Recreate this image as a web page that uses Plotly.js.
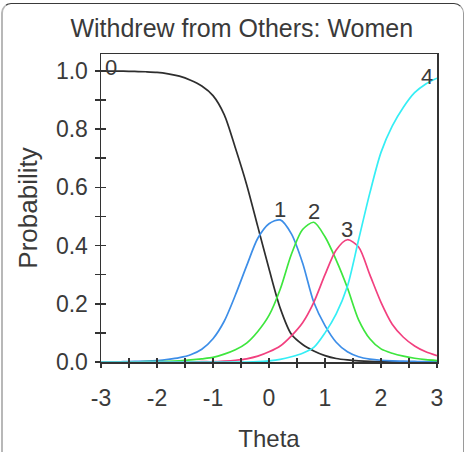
<!DOCTYPE html>
<html>
<head>
<meta charset="utf-8">
<script src="https://cdn.plot.ly/plotly-3.0.1.min.js"></script>
<style>
  html, body { margin: 0; padding: 0; background: #ffffff; }
  #wrap { position: relative; width: 465px; height: 452px; overflow: hidden; }
  #chart { position: absolute; left: 0; top: 0; width: 465px; height: 452px; }
  #frame {
    position: absolute; left: 1px; top: 3px; width: 460px; height: 470px;
    border-top: 1.5px solid #3a3a3a; border-left: 2px solid #b8b8b8;
    border-right: 1.5px solid #9a9a9a; border-radius: 10px 10px 0 0;
    pointer-events: none;
  }
</style>
</head>
<body>
<div id="wrap">
  <div id="chart"></div>
  <div id="frame"></div>
</div>
<script>
// Latent trait grid
const theta = [-3, -2.8, -2.6, -2.4, -2.2, -2, -1.8, -1.6, -1.4, -1.2, -1, -0.8, -0.6, -0.4, -0.2,
               0, 0.2, 0.4, 0.6, 0.8, 1, 1.2, 1.4, 1.6, 1.8, 2, 2.2, 2.4, 2.6, 2.8, 3];

// Category response probabilities
const cat0 = [1.000, 0.999, 0.999, 0.998, 0.997, 0.995, 0.990, 0.982, 0.968, 0.948, 0.915, 0.850, 0.735, 0.610, 0.465,
              0.320, 0.185, 0.095, 0.060, 0.038, 0.022, 0.012, 0.007, 0.004, 0.002, 0.001, 0.001, 0.000, 0.000, 0.000, 0.000];
const cat1 = [0.000, 0.000, 0.001, 0.002, 0.003, 0.005, 0.009, 0.015, 0.025, 0.044, 0.080, 0.140, 0.230, 0.330, 0.425,
              0.475, 0.488, 0.440, 0.340, 0.205, 0.125, 0.068, 0.035, 0.018, 0.010, 0.006, 0.004, 0.003, 0.002, 0.001, 0.001];
const cat2 = [0.000, 0.000, 0.000, 0.000, 0.001, 0.001, 0.002, 0.004, 0.007, 0.011, 0.016, 0.027, 0.042, 0.065, 0.105,
              0.160, 0.250, 0.370, 0.455, 0.480, 0.430, 0.350, 0.255, 0.145, 0.080, 0.045, 0.030, 0.020, 0.013, 0.008, 0.005];
const cat3 = [0.000, 0.000, 0.000, 0.000, 0.000, 0.000, 0.000, 0.000, 0.000, 0.001, 0.001, 0.003, 0.006, 0.011, 0.020,
              0.035, 0.055, 0.090, 0.135, 0.205, 0.300, 0.385, 0.420, 0.395, 0.300, 0.205, 0.130, 0.085, 0.055, 0.035, 0.022];
const cat4 = [0.000, 0.000, 0.000, 0.000, 0.000, 0.000, 0.000, 0.000, 0.000, 0.000, 0.000, 0.000, 0.000, 0.000, 0.001,
              0.004, 0.009, 0.018, 0.030, 0.050, 0.100, 0.165, 0.260, 0.420, 0.580, 0.720, 0.810, 0.875, 0.925, 0.955, 0.975];

const categoryNames = ['0', '1', '2', '3', '4'];
const series = [cat0, cat1, cat2, cat3, cat4];
const colors = ['#2e2e2e', '#3d8ee8', '#3ee63e', '#f2407f', '#35eef5'];

// Axis ticks
const xTickVals = [-3, -2.5, -2, -1.5, -1, -0.5, 0, 0.5, 1, 1.5, 2, 2.5, 3];
const xTickText = ['-3', '', '-2', '', '-1', '', '0', '', '1', '', '2', '', '3'];
const yTickVals = [0, 0.1, 0.2, 0.3, 0.4, 0.5, 0.6, 0.7, 0.8, 0.9, 1.0];
const yTickText = ['0.0', '', '0.2', '', '0.4', '', '0.6', '', '0.8', '', '1.0'];

const FONT = '"Liberation Sans", Arial, sans-serif';
const INK = '#3a3a3a';

const traces = series.map((ys, i) => ({
  x: theta, y: ys, type: 'scatter', mode: 'lines',
  name: categoryNames[i],
  line: { color: colors[i], width: 1.7, shape: 'spline', smoothing: 0.8 },
  hoverinfo: 'skip'
}));

// Transparent copy on the overlay axes so their inner tick marks get drawn
traces.push({
  x: theta, y: cat0, type: 'scatter', mode: 'lines', xaxis: 'x2', yaxis: 'y2',
  line: { color: 'rgba(0,0,0,0)', width: 0 }, hoverinfo: 'skip', showlegend: false
});

// Category labels: first curve at its start, last at its end, middle ones over their peaks
const annotations = series.map((ys, i) => {
  let k;
  if (i === 0) k = 0;
  else if (i === series.length - 1) k = ys.length - 1;
  else k = ys.indexOf(Math.max(...ys));
  const base = { text: categoryNames[i], showarrow: false, font: { family: FONT, size: 22, color: INK } };
  if (i === 0) return Object.assign(base, { x: theta[k], y: ys[k], xanchor: 'left', yanchor: 'middle', xshift: 2, yshift: 3 });
  if (i === series.length - 1) return Object.assign(base, { x: theta[k], y: ys[k], xanchor: 'right', yanchor: 'middle', xshift: -2, yshift: 2 });
  return Object.assign(base, { x: theta[k], y: ys[k], xanchor: 'center', yanchor: 'bottom', yshift: -4 });
});

const axisCommon = {
  showgrid: false, zeroline: false, ticks: 'outside',
  tickcolor: '#333', tickwidth: 1.5,
  linecolor: '#333', linewidth: 1.5, showline: true, mirror: true,
  tickfont: { family: FONT, size: 23, color: INK }
};

const layout = {
  width: 465, height: 452,
  margin: { l: 101, r: 28, t: 54, b: 90 },
  paper_bgcolor: 'rgba(0,0,0,0)', plot_bgcolor: '#ffffff',
  showlegend: false,
  title: {
    text: 'Withdrew from Others: Women',
    font: { family: FONT, size: 25, color: INK },
    x: 0.52, xref: 'container', xanchor: 'center',
    y: 0.938, yref: 'container', yanchor: 'middle'
  },
  xaxis: Object.assign({}, axisCommon, {
    range: [-3, 3], tickmode: 'array', tickvals: xTickVals, ticktext: xTickText,
    ticklen: 4, ticklabelstandoff: 11,
    title: { text: 'Theta', font: { family: FONT, size: 24, color: INK }, standoff: 25 }
  }),
  yaxis: Object.assign({}, axisCommon, {
    range: [0, 1.058], tickmode: 'array', tickvals: yTickVals, ticktext: yTickText,
    ticklen: 5, ticklabelstandoff: 2,
    title: { text: 'Probability', font: { family: FONT, size: 26, color: INK }, standoff: 11 }
  }),
  // inner halves of the crossing tick marks
  xaxis2: {
    overlaying: 'x', anchor: 'y', side: 'bottom', range: [-3, 3],
    tickmode: 'array', tickvals: xTickVals, ticks: 'inside', ticklen: 4,
    tickcolor: '#333', tickwidth: 1.5, showticklabels: false,
    showgrid: false, zeroline: false, showline: false
  },
  yaxis2: {
    overlaying: 'y', anchor: 'x', side: 'left', range: [0, 1.058],
    tickmode: 'array', tickvals: yTickVals, ticks: 'inside', ticklen: 5,
    tickcolor: '#333', tickwidth: 1.5, showticklabels: false,
    showgrid: false, zeroline: false, showline: false
  },
  annotations: annotations
};

Plotly.newPlot('chart', traces, layout, { staticPlot: true, displayModeBar: false });
</script>
</body>
</html>
